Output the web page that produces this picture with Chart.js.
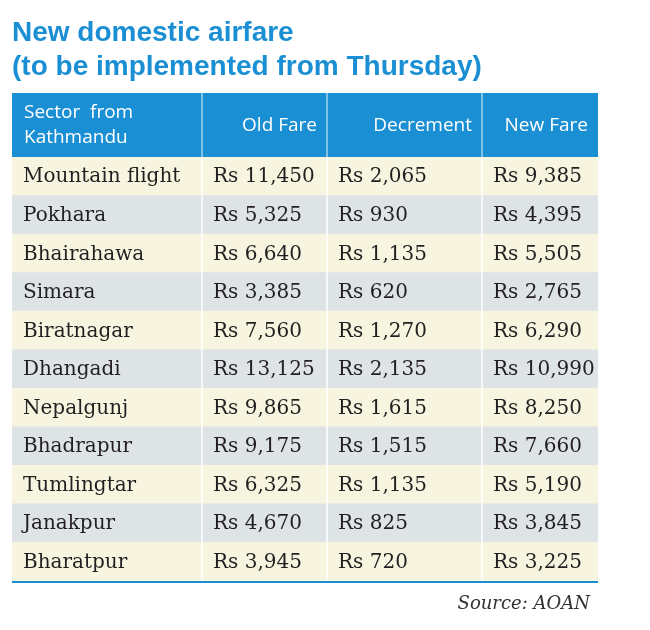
<!DOCTYPE html>
<html><head><meta charset="utf-8">
<script src="https://cdn.jsdelivr.net/npm/chart.js@4"></script>
<style>html,body{margin:0;padding:0;background:#fff}#w{width:650px;height:630px}</style>
</head><body><div id="w"><canvas id="c"></canvas></div>
<script>
const titleLines = ["New domestic airfare", "(to be implemented from Thursday)"];
const headers = [["Sector  from", "Kathmandu"], ["Old Fare"], ["Decrement"], ["New Fare"]];
const sectors = ["Mountain flight","Pokhara","Bhairahawa","Simara","Biratnagar","Dhangadi","Nepalgunj","Bhadrapur","Tumlingtar","Janakpur","Bharatpur"];
const oldFare = ["Rs 11,450","Rs 5,325","Rs 6,640","Rs 3,385","Rs 7,560","Rs 13,125","Rs 9,865","Rs 9,175","Rs 6,325","Rs 4,670","Rs 3,945"];
const decrement = ["Rs 2,065","Rs 930","Rs 1,135","Rs 620","Rs 1,270","Rs 2,135","Rs 1,615","Rs 1,515","Rs 1,135","Rs 825","Rs 720"];
const newFare = ["Rs 9,385","Rs 4,395","Rs 5,505","Rs 2,765","Rs 6,290","Rs 10,990","Rs 8,250","Rs 7,660","Rs 5,190","Rs 3,845","Rs 3,225"];
const source = "Source: AOAN";
const colBounds = [0, 190, 315, 470, 586];

const BLUE = '#1b8fd3';
const tablePlugin = {
  id: 'tbl',
  afterDatasetsDraw(chart) {
    const ctx = chart.ctx, xs = chart.scales.x, ys = chart.scales.y, ca = chart.chartArea;
    const px = colBounds.map(v => xs.getPixelForValue(v));
    ctx.save();
    ctx.fillStyle = BLUE; ctx.font = 'bold 28px "Liberation Sans Narrow", "Liberation Sans", sans-serif';
    ctx.textBaseline = 'alphabetic'; ctx.textAlign = 'left';
    titleLines.forEach((t, i) => ctx.fillText(t, px[0], 41 + i * 34));
    const hTop = 93, hBot = ca.top;
    ctx.fillStyle = BLUE; ctx.fillRect(px[0], hTop, px[4] - px[0], hBot - hTop);
    ctx.strokeStyle = 'rgba(255,255,255,0.6)'; ctx.lineWidth = 1.5;
    for (let i = 1; i < 4; i++) { ctx.beginPath(); ctx.moveTo(px[i], hTop); ctx.lineTo(px[i], hBot); ctx.stroke(); }
    ctx.fillStyle = '#fff'; ctx.font = '19px "Open Sans", sans-serif'; ctx.textBaseline = 'middle';
    ctx.textAlign = 'left';
    ctx.fillText(headers[0][0], px[0] + 12, 113); ctx.fillText(headers[0][1], px[0] + 12, 138);
    ctx.textAlign = 'right';
    for (let i = 1; i < 4; i++) ctx.fillText(headers[i][0], px[i + 1] - 10, 126);
    ctx.strokeStyle = '#ffffff'; ctx.lineWidth = 1.5;
    for (let i = 1; i < 4; i++) { ctx.beginPath(); ctx.moveTo(px[i], ca.top); ctx.lineTo(px[i], ca.bottom); ctx.stroke(); }
    ctx.fillStyle = '#231f20'; ctx.font = '20px "DejaVu Serif", serif'; ctx.textAlign = 'left';
    const cols = [sectors, oldFare, decrement, newFare];
    sectors.forEach((s, r) => {
      const y = ys.getPixelForValue(r) + 1;
      cols.forEach((c, ci) => ctx.fillText(c[r], px[ci] + 11, y));
    });
    ctx.strokeStyle = BLUE; ctx.lineWidth = 2;
    ctx.beginPath(); ctx.moveTo(px[0], ca.bottom + 1); ctx.lineTo(px[4], ca.bottom + 1); ctx.stroke();
    ctx.fillStyle = '#333'; ctx.font = 'italic 18px "DejaVu Serif", serif'; ctx.textAlign = 'right';
    ctx.textBaseline = 'alphabetic'; ctx.fillText(source, px[4] - 8, 609);
    ctx.restore();
  }
};

new Chart(document.getElementById('c'), {
  type: 'bar',
  data: {
    labels: sectors,
    datasets: [{
      data: sectors.map(() => [colBounds[0], colBounds[colBounds.length - 1]]),
      backgroundColor: sectors.map((_, i) => i % 2 === 0 ? '#f7f4e0' : '#dee3e6'),
      barPercentage: 1, categoryPercentage: 1, borderWidth: 0
    }]
  },
  options: {
    indexAxis: 'y', responsive: true, maintainAspectRatio: false, animation: false,
    layout: { padding: { top: 157, left: 12, right: 52, bottom: 49 } },
    scales: {
      x: { type: 'linear', min: colBounds[0], max: colBounds[colBounds.length - 1], display: false },
      y: { display: false }
    },
    plugins: { legend: { display: false }, tooltip: { enabled: false } }
  },
  plugins: [tablePlugin]
});
</script></body></html>
